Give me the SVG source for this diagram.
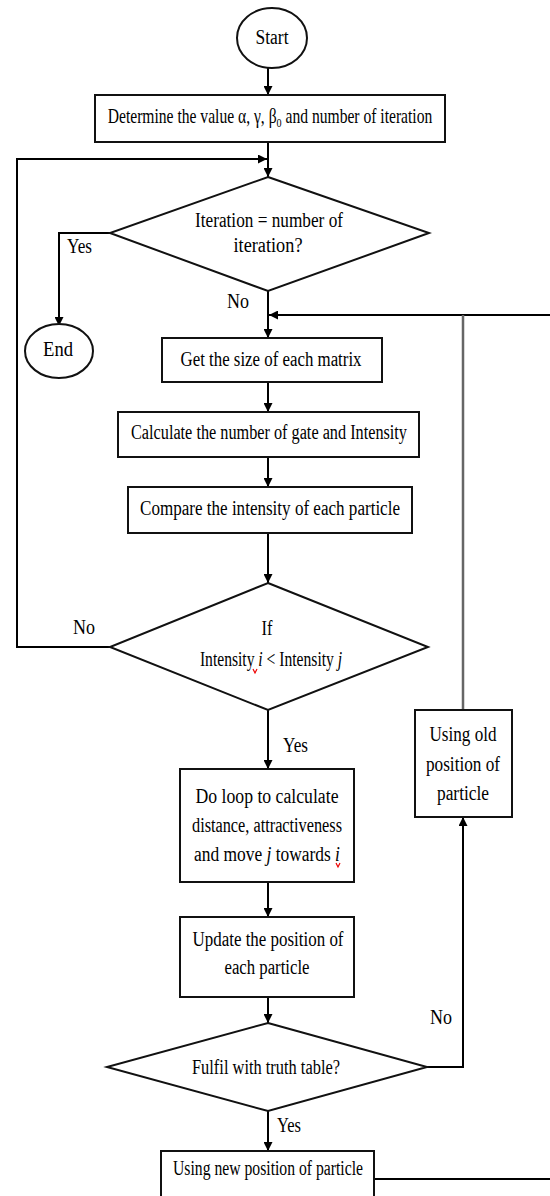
<svg xmlns="http://www.w3.org/2000/svg" width="550" height="1196" viewBox="0 0 550 1196">
<defs>
<marker id="arr" viewBox="0 0 10 10" refX="10" refY="5" markerWidth="9" markerHeight="9" markerUnits="userSpaceOnUse" orient="auto">
<path d="M0,0 L10,5 L0,10 Z" fill="#000"/>
</marker>
<style>
.shape{fill:#fff;stroke:#111;stroke-width:2}
.t{font-family:"Liberation Serif","Times New Roman",serif;font-size:20px;fill:#000;text-anchor:middle}
.lbl{font-family:"Liberation Serif","Times New Roman",serif;font-size:20px;fill:#000}
.c{fill:none;stroke:#000;stroke-width:2}
.ca{fill:none;stroke:#000;stroke-width:2;marker-end:url(#arr)}
.gray{fill:none;stroke:#666;stroke-width:2.5}
</style>
</defs>
<rect width="550" height="1196" fill="#fff"/>
<g id="connectors">
<path class="ca" d="M268,68 V95"/>
<path class="ca" d="M268,142 V177"/>
<path class="ca" d="M110,647 H17 V159 H267"/>
<path class="ca" d="M110,233 H59 V326"/>
<path class="ca" d="M268,291 V338"/>
<path class="ca" d="M374,1179 H553 V315 H269"/>
<path class="gray" d="M463,315 V710"/>
<path class="ca" d="M268,382 V412"/>
<path class="ca" d="M268,457 V487"/>
<path class="ca" d="M268,533 V583"/>
<path class="ca" d="M268,710 V769"/>
<path class="ca" d="M268,882 V917"/>
<path class="ca" d="M268,997 V1023"/>
<path class="ca" d="M427,1067 H463 V817"/>
<path class="ca" d="M268,1111 V1151"/>
<text class="lbl" x="67" y="253" textLength="25" lengthAdjust="spacingAndGlyphs">Yes</text>
<text class="lbl" x="227" y="308" textLength="22" lengthAdjust="spacingAndGlyphs">No</text>
<text class="lbl" x="73" y="634" textLength="22" lengthAdjust="spacingAndGlyphs">No</text>
<text class="lbl" x="283" y="752" textLength="25" lengthAdjust="spacingAndGlyphs">Yes</text>
<text class="lbl" x="430" y="1024" textLength="22" lengthAdjust="spacingAndGlyphs">No</text>
<text class="lbl" x="277" y="1132" textLength="24" lengthAdjust="spacingAndGlyphs">Yes</text>
</g>
<g id="start">
<ellipse class="shape" cx="272" cy="38" rx="35" ry="30"/>
<text class="t" x="272" y="44" textLength="33" lengthAdjust="spacingAndGlyphs">Start</text>
</g>
<g id="init">
<rect class="shape" x="95" y="95" width="350" height="47"/>
<text class="t" transform="translate(270,123) scale(0.78,1)" x="0" y="0">Determine the value α, γ, β<tspan font-size="13" dy="4">0</tspan><tspan dy="-4"> and number of iteration</tspan></text>
</g>
<g id="check-iter">
<polygon class="shape" points="268,177 429,233 268,291 110,233"/>
<text class="t" x="269" y="227" textLength="148" lengthAdjust="spacingAndGlyphs">Iteration = number of</text>
<text class="t" x="268" y="252" textLength="69" lengthAdjust="spacingAndGlyphs">iteration?</text>
</g>
<g id="end">
<ellipse class="shape" cx="59" cy="351" rx="34" ry="27"/>
<text class="t" x="58" y="356" textLength="30" lengthAdjust="spacingAndGlyphs">End</text>
</g>
<g id="get-size">
<rect class="shape" x="162" y="338" width="220" height="44"/>
<text class="t" x="271" y="366" textLength="181" lengthAdjust="spacingAndGlyphs">Get the size of each matrix</text>
</g>
<g id="calc">
<rect class="shape" x="118" y="412" width="301" height="45"/>
<text class="t" x="269" y="439" textLength="276" lengthAdjust="spacingAndGlyphs">Calculate the number of gate and Intensity</text>
</g>
<g id="compare">
<rect class="shape" x="128" y="487" width="284" height="46"/>
<text class="t" x="270" y="515" textLength="260" lengthAdjust="spacingAndGlyphs">Compare the intensity of each particle</text>
</g>
<g id="check-intensity">
<polygon class="shape" points="268,583 428,647 268,710 110,647"/>
<text class="t" x="267" y="635" textLength="11" lengthAdjust="spacingAndGlyphs">If</text>
<text class="t" transform="translate(271,666) scale(0.78,1)" x="0" y="0">Intensity <tspan font-style="italic">i</tspan> &lt; Intensity <tspan font-style="italic">j</tspan></text>
<path d="M253,669 l2,4 l2,-4" fill="none" stroke="#e00" stroke-width="1.2"/>
</g>
<g id="do-loop">
<rect class="shape" x="180" y="769" width="174" height="113"/>
<text class="t" x="267" y="803" textLength="143" lengthAdjust="spacingAndGlyphs">Do loop to calculate</text>
<text class="t" x="267" y="832" textLength="150" lengthAdjust="spacingAndGlyphs">distance, attractiveness</text>
<text class="t" transform="translate(267,861) scale(0.87,1)" x="0" y="0">and move <tspan font-style="italic">j</tspan> towards <tspan font-style="italic">i</tspan></text>
<path d="M336,863 l2,4 l2,-4" fill="none" stroke="#e00" stroke-width="1.2"/>
</g>
<g id="update">
<rect class="shape" x="180" y="917" width="174" height="80"/>
<text class="t" x="268" y="946" textLength="151" lengthAdjust="spacingAndGlyphs">Update the position of</text>
<text class="t" x="267" y="974" textLength="85" lengthAdjust="spacingAndGlyphs">each particle</text>
</g>
<g id="check-truth">
<polygon class="shape" points="268,1023 427,1067 268,1111 107,1067"/>
<text class="t" x="266" y="1074" textLength="148" lengthAdjust="spacingAndGlyphs">Fulfil with truth table?</text>
</g>
<g id="old-pos">
<rect class="shape" x="415" y="710" width="97" height="107"/>
<text class="t" x="463" y="741" textLength="67" lengthAdjust="spacingAndGlyphs">Using old</text>
<text class="t" x="463" y="771" textLength="74" lengthAdjust="spacingAndGlyphs">position of</text>
<text class="t" x="463" y="800" textLength="52" lengthAdjust="spacingAndGlyphs">particle</text>
</g>
<g id="new-pos">
<rect class="shape" x="161" y="1151" width="213" height="50"/>
<text class="t" x="268" y="1175" textLength="190" lengthAdjust="spacingAndGlyphs">Using new position of particle</text>
</g>
</svg>
